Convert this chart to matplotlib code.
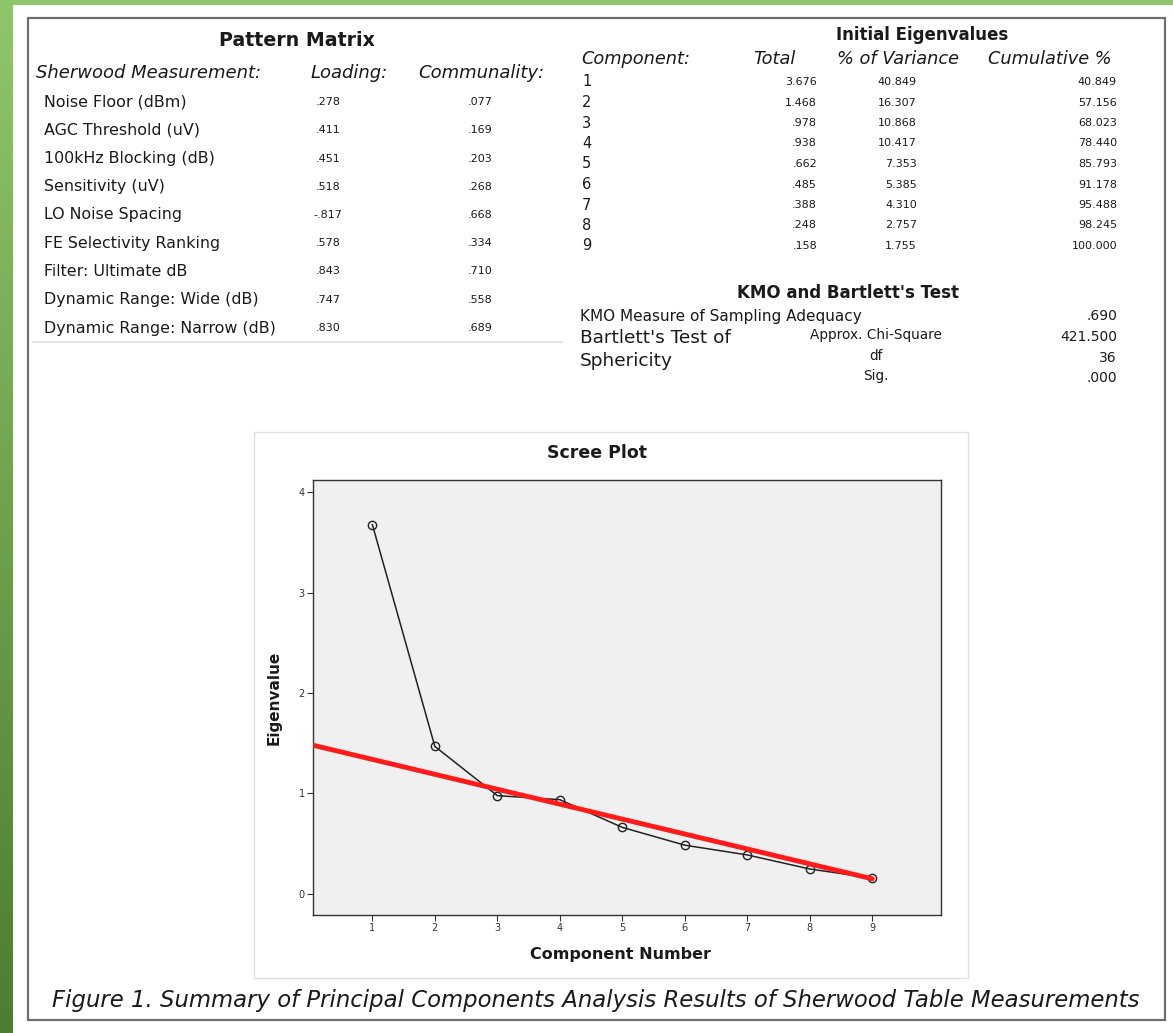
import matplotlib.pyplot as plt
import numpy as np
from matplotlib.patches import Rectangle
from matplotlib.colors import LinearSegmentedColormap

W, H = 1173, 1033

# ---- data ----
measures = ["Noise Floor (dBm)", "AGC Threshold (uV)", "100kHz Blocking (dB)",
            "Sensitivity (uV)", "LO Noise Spacing", "FE Selectivity Ranking",
            "Filter: Ultimate dB", "Dynamic Range: Wide (dB)", "Dynamic Range: Narrow (dB)"]
loadings = [".278", ".411", ".451", ".518", "-.817", ".578", ".843", ".747", ".830"]
communality = [".077", ".169", ".203", ".268", ".668", ".334", ".710", ".558", ".689"]

components = [1, 2, 3, 4, 5, 6, 7, 8, 9]
eigen_total = [3.676, 1.468, .978, .938, .662, .485, .388, .248, .158]
pct_variance = ["40.849", "16.307", "10.868", "10.417", "7.353", "5.385", "4.310", "2.757", "1.755"]
cumulative = ["40.849", "57.156", "68.023", "78.440", "85.793", "91.178", "95.488", "98.245", "100.000"]

kmo_value = ".690"
bartlett_labels = ["Approx. Chi-Square", "df", "Sig."]
bartlett_values = ["421.500", "36", ".000"]

# hand drawn "elbow" line
red_x = [0.05, 9.0]
red_y = [1.48, 0.15]


def fx(x):
    return x / W


def fy(y):
    return 1 - y / H


def txt(x, y, s, **kw):
    kw.setdefault("va", "center")
    kw.setdefault("color", "#1a1a1a")
    fig.text(fx(x), fy(y), s, **kw)


def fmt_total(v):
    s = "%.3f" % v
    return s[1:] if s.startswith("0") else s


fig = plt.figure(figsize=(W / 100, H / 100), dpi=100)
fig.patch.set_facecolor("white")

# green frame: top band + gradient strip on the left
grad = np.linspace(0, 1, 256).reshape(-1, 1)
bg = fig.add_axes([0, 0, fx(13), 1])
bg.imshow(grad, aspect="auto", extent=[0, 1, 0, 1], origin="upper",
          cmap=LinearSegmentedColormap.from_list("g", ["#8fc66b", "#4c7d33"]))
bg.axis("off")
fig.patches.append(Rectangle((0, fy(5)), 1, 5 / H, transform=fig.transFigure,
                             facecolor="#8fc66b", edgecolor="none", zorder=0))

# grey border
fig.patches.append(Rectangle((fx(28), fy(1020)), fx(1165 - 28), (1020 - 18) / H,
                             transform=fig.transFigure, facecolor="none",
                             edgecolor="#6e6e6e", lw=1.6, zorder=1))

# ---- Pattern Matrix ----
txt(297, 41, "Pattern Matrix", ha="center", fontsize=13.7, fontweight="bold")
txt(36, 73, "Sherwood Measurement:", ha="left", fontsize=13, style="italic")
txt(349, 73, "Loading:", ha="center", fontsize=13, style="italic")
txt(481, 73, "Communality:", ha="center", fontsize=13, style="italic")
for i, (m, l, c) in enumerate(zip(measures, loadings, communality)):
    y = 102 + i * 28.25
    txt(44, y, m, ha="left", fontsize=11.4)
    txt(328, y, l, ha="center", fontsize=8)
    txt(480, y, c, ha="center", fontsize=8)
fig.lines.append(plt.Line2D([fx(33), fx(562)], [fy(342), fy(342)],
                            transform=fig.transFigure, color="#dddddd", lw=1.2))

# ---- Initial Eigenvalues ----
txt(922, 35, "Initial Eigenvalues", ha="center", fontsize=12, fontweight="bold")
txt(581, 59, "Component:", ha="left", fontsize=12.8, style="italic")
txt(795, 59, "Total", ha="right", fontsize=12.8, style="italic")
txt(898, 59, "% of Variance", ha="center", fontsize=12.8, style="italic")
txt(1050, 59, "Cumulative %", ha="center", fontsize=12.8, style="italic")
for i, (c, t, p, cu) in enumerate(zip(components, eigen_total, pct_variance, cumulative)):
    y = 82 + i * 20.5
    txt(582, y, str(c), ha="left", fontsize=10.5)
    txt(817, y, fmt_total(t), ha="right", fontsize=8)
    txt(917, y, p, ha="right", fontsize=8)
    txt(1117, y, cu, ha="right", fontsize=8)

# ---- KMO and Bartlett ----
txt(848, 293, "KMO and Bartlett's Test", ha="center", fontsize=12, fontweight="bold")
txt(580, 316, "KMO Measure of Sampling Adequacy", ha="left", fontsize=11)
txt(1117, 316, kmo_value, ha="right", fontsize=10)
txt(580, 338, "Bartlett's Test of", ha="left", fontsize=13.3)
txt(580, 361, "Sphericity", ha="left", fontsize=13.3)
for i, (lab, val) in enumerate(zip(bartlett_labels, bartlett_values)):
    y = 336 + i * 20.5
    txt(876, y - 1, lab, ha="center", fontsize=9.8)
    txt(1117, y + 1, val, ha="right", fontsize=10)

# ---- Scree plot ----
fig.patches.append(Rectangle((fx(254), fy(978)), fx(968 - 254), (978 - 432) / H,
                             transform=fig.transFigure, facecolor="white",
                             edgecolor="#e0e0e0", lw=1, zorder=0))
ax = fig.add_axes([fx(313), fy(915), fx(941 - 313), (915 - 480) / H], zorder=3)
ax.set_facecolor("#f0f0f0")
ax.plot(components, eigen_total, color="#222222", lw=1.1, marker="o", ms=6,
        mfc="none", mec="#222222", mew=1, zorder=3)
ax.plot(red_x, red_y, color="#ff1a1a", lw=3.5, solid_capstyle="round", zorder=4)
ax.set_xlim(0.05, 10.1)
ax.set_ylim(-0.21, 4.12)
ax.set_xticks(components)
ax.set_yticks([0, 1, 2, 3, 4])
ax.tick_params(labelsize=7, length=4, width=0.8, colors="#333333", pad=2)
for s in ax.spines.values():
    s.set_color("#333333")
    s.set_linewidth(1)
ax.set_ylabel("Eigenvalue", fontsize=11, color="#1a1a1a", labelpad=12, fontweight="bold")
txt(597, 453, "Scree Plot", ha="center", fontsize=12.5, fontweight="bold", zorder=5)
txt(621, 955, "Component Number", ha="center", fontsize=11.5, fontweight="bold", zorder=5)

# caption
txt(596, 1001, "Figure 1. Summary of Principal Components Analysis Results of Sherwood Table Measurements",
    ha="center", fontsize=16.4, style="italic")

fig.savefig("out.png", dpi=100)
